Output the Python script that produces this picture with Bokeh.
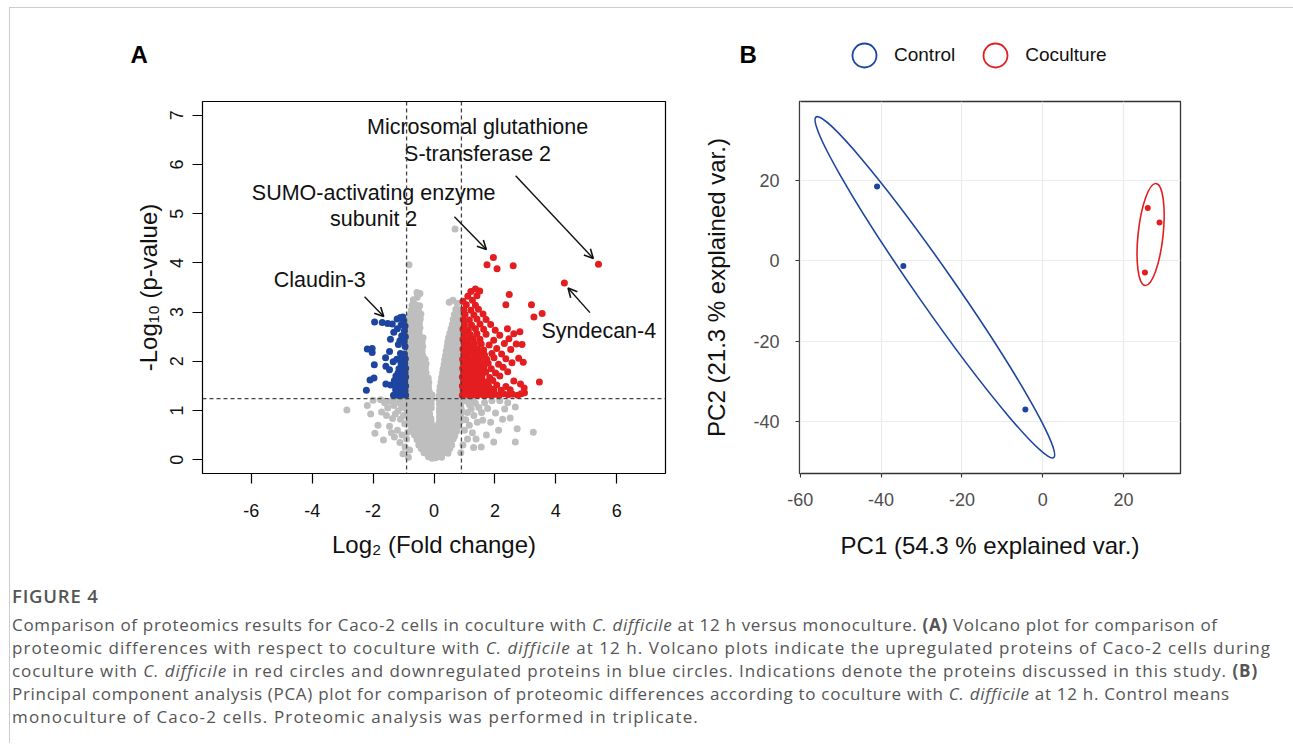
from bokeh.plotting import figure
from bokeh.models import (Span, Arrow, OpenHead, Label, Legend, LegendItem,
                          ColumnDataSource, FixedTicker, Div, Range1d, PrintfTickFormatter)
from bokeh.layouts import row, column
from bokeh.core.properties import value
from bokeh.embed import file_html
from bokeh.resources import INLINE
import math

FONT = "Liberation Sans"

# ---------------- Panel A: volcano plot data ----------------
gray_pts = [
    (-0.18,0.06),(-0.06,0.03),(0.05,0.04),(0.16,0.07),(0.25,0.05),
    (-0.33,0.14),(-0.22,0.12),(-0.1,0.13),(0.02,0.11),(0.13,0.14),(0.25,0.12),(0.36,0.15),(0.46,0.13),
    (-0.42,0.23),(-0.3,0.21),(-0.18,0.22),(-0.06,0.2),(0.06,0.23),(0.18,0.21),(0.3,0.22),(0.42,0.2),(0.52,0.23),
    (-0.5,0.3),(-0.38,0.32),(-0.26,0.31),(-0.14,0.29),(-0.02,0.32),(0.1,0.3),(0.22,0.31),(0.34,0.29),(0.46,0.32),(0.58,0.3),
    (-0.56,0.41),(-0.44,0.39),(-0.32,0.4),(-0.2,0.42),(-0.08,0.39),(0.04,0.41),(0.16,0.4),(0.28,0.38),(0.4,0.41),(0.52,0.4),(0.63,0.42),
    (-0.64,0.5),(-0.52,0.48),(-0.4,0.49),(-0.28,0.51),(-0.16,0.48),(-0.04,0.5),(0.08,0.49),(0.2,0.47),(0.32,0.5),(0.44,0.49),(0.56,0.51),(0.68,0.48),
    (-0.7,0.58),(-0.58,0.59),(-0.46,0.57),(-0.34,0.6),(-0.22,0.58),(-0.1,0.59),(0.02,0.57),(0.14,0.6),(0.26,0.58),(0.38,0.59),(0.5,0.57),(0.62,0.6),(0.74,0.58),
    (-0.74,0.67),(-0.62,0.68),(-0.5,0.66),(-0.38,0.69),(-0.26,0.67),(-0.14,0.68),(-0.02,0.66),(0.1,0.69),(0.22,0.67),(0.34,0.68),(0.46,0.66),(0.58,0.69),(0.7,0.67),(0.81,0.68),
    (-0.78,0.76),(-0.66,0.77),(-0.54,0.75),(-0.42,0.78),(-0.3,0.76),(-0.18,0.77),(-0.09,0.75),(0.18,0.78),(0.28,0.76),(0.39,0.77),(0.51,0.75),(0.63,0.78),(0.75,0.76),(0.86,0.77),
    (-0.82,0.85),(-0.7,0.86),(-0.58,0.84),(-0.46,0.87),(-0.34,0.85),(-0.22,0.86),(-0.1,0.84),(0.18,0.87),(0.29,0.85),(0.41,0.86),(0.53,0.84),(0.65,0.87),(0.77,0.85),(0.89,0.86),
    (-0.86,0.94),(-0.74,0.95),(-0.62,0.93),(-0.5,0.96),(-0.38,0.94),(-0.26,0.95),(-0.14,0.93),(0.18,0.96),(0.29,0.94),(0.41,0.95),(0.53,0.93),(0.65,0.96),(0.77,0.94),(0.9,0.95),
    (-0.9,1.03),(-0.78,1.04),(-0.66,1.02),(-0.54,1.05),(-0.42,1.03),(-0.3,1.04),(-0.18,1.02),(-0.09,1.05),(0.18,1.03),(0.29,1.04),(0.41,1.02),(0.53,1.05),(0.65,1.03),(0.77,1.04),(0.9,1.02),
    (-0.92,1.12),(-0.8,1.13),(-0.68,1.11),(-0.56,1.14),(-0.44,1.12),(-0.32,1.13),(-0.2,1.11),(-0.09,1.14),(0.18,1.12),(0.28,1.13),(0.4,1.11),(0.52,1.14),(0.64,1.12),(0.76,1.13),(0.88,1.11),
    (-0.9,1.21),(-0.78,1.22),(-0.66,1.2),(-0.54,1.23),(-0.42,1.21),(-0.3,1.22),(-0.18,1.2),(-0.08,1.23),(0.17,1.21),(0.27,1.22),(0.39,1.2),(0.51,1.23),(0.63,1.21),(0.75,1.22),(0.87,1.2),
    (-0.9,1.3),(-0.78,1.31),(-0.66,1.29),(-0.54,1.32),(-0.42,1.3),(-0.3,1.31),(-0.18,1.29),(-0.07,1.32),
    (-0.88,1.4),(-0.76,1.39),(-0.64,1.41),(-0.52,1.38),(-0.4,1.4),(-0.28,1.41),(-0.16,1.39),
    (-0.9,1.49),(-0.78,1.5),(-0.66,1.48),(-0.54,1.51),(-0.42,1.49),(-0.3,1.5),(-0.18,1.48),
    (-0.87,1.58),(-0.75,1.59),(-0.63,1.57),(-0.51,1.6),(-0.39,1.58),(-0.27,1.59),(-0.17,1.57),
    (-0.89,1.67),(-0.77,1.68),(-0.65,1.66),(-0.53,1.69),(-0.41,1.67),(-0.29,1.68),(-0.19,1.66),
    (-0.86,1.76),(-0.74,1.77),(-0.62,1.75),(-0.5,1.78),(-0.38,1.76),(-0.26,1.77),
    (-0.88,1.85),(-0.76,1.86),(-0.64,1.84),(-0.52,1.87),(-0.4,1.85),(-0.28,1.86),
    (-0.86,1.94),(-0.74,1.95),(-0.62,1.93),(-0.5,1.96),(-0.38,1.94),(-0.26,1.95),
    (-0.88,2.03),(-0.76,2.04),(-0.64,2.02),(-0.52,2.05),(-0.4,2.03),(-0.29,2.04),
    (-0.85,2.12),(-0.73,2.13),(-0.61,2.11),(-0.49,2.14),(-0.37,2.12),
    (-0.87,2.21),(-0.75,2.22),(-0.63,2.2),(-0.51,2.23),(-0.39,2.21),
    (-0.84,2.3),(-0.72,2.31),(-0.6,2.29),(-0.48,2.32),(-0.37,2.3),
    (-0.86,2.39),(-0.74,2.4),(-0.62,2.38),(-0.5,2.41),(-0.39,2.39),
    (-0.83,2.48),(-0.71,2.49),(-0.59,2.47),(-0.47,2.5),(-0.36,2.48),
    (-0.85,2.57),(-0.73,2.58),(-0.61,2.56),(-0.49,2.59),
    (-0.82,2.66),(-0.7,2.67),(-0.58,2.65),(-0.46,2.68),
    (-0.84,2.75),(-0.72,2.76),(-0.6,2.74),(-0.48,2.77),
    (-0.81,2.84),(-0.69,2.85),(-0.57,2.83),(-0.45,2.86),
    (-0.78,2.94),(-0.66,2.95),(-0.54,2.93),(-0.43,2.96),
    (-0.75,3.04),(-0.63,3.05),(-0.51,3.03),
    (-0.72,3.14),(-0.6,3.15),(-0.47,3.13),
    (-0.68,3.25),(-0.55,3.3),(-0.46,3.38),(-0.56,3.4),
    (-0.82,3.96),
    (0.16,1.3),(0.28,1.31),(0.4,1.29),(0.52,1.32),(0.64,1.3),(0.76,1.31),(0.88,1.29),
    (0.19,1.4),(0.31,1.39),(0.43,1.41),(0.55,1.38),(0.67,1.4),(0.79,1.41),(0.89,1.39),
    (0.2,1.49),(0.32,1.5),(0.44,1.48),(0.56,1.51),(0.68,1.49),(0.8,1.5),(0.89,1.48),
    (0.23,1.58),(0.35,1.59),(0.47,1.57),(0.59,1.6),(0.71,1.58),(0.83,1.59),
    (0.25,1.67),(0.37,1.68),(0.49,1.66),(0.61,1.69),(0.73,1.67),(0.85,1.68),
    (0.28,1.76),(0.4,1.77),(0.52,1.75),(0.64,1.78),(0.76,1.76),(0.88,1.77),
    (0.3,1.85),(0.42,1.86),(0.54,1.84),(0.66,1.87),(0.78,1.85),(0.89,1.86),
    (0.33,1.94),(0.45,1.95),(0.57,1.93),(0.69,1.96),(0.81,1.94),
    (0.35,2.03),(0.47,2.04),(0.59,2.02),(0.71,2.05),(0.83,2.03),
    (0.38,2.12),(0.5,2.13),(0.62,2.11),(0.74,2.14),(0.86,2.12),
    (0.4,2.21),(0.52,2.22),(0.64,2.2),(0.76,2.23),(0.88,2.21),
    (0.43,2.3),(0.55,2.31),(0.67,2.29),(0.79,2.32),
    (0.45,2.39),(0.57,2.4),(0.69,2.38),(0.81,2.41),
    (0.48,2.48),(0.6,2.49),(0.72,2.47),(0.84,2.5),
    (0.52,2.57),(0.64,2.58),(0.76,2.56),(0.87,2.59),
    (0.56,2.66),(0.68,2.67),(0.8,2.65),
    (0.6,2.75),(0.72,2.76),(0.84,2.74),
    (0.63,2.85),(0.75,2.86),(0.86,2.84),
    (0.67,2.95),(0.8,2.96),
    (0.72,3.06),(0.84,3.05),
    (0.5,3.2),(0.62,3.24),(0.76,3.18),
    (0.69,4.69),
    (-1.02,1.2),(-1.14,1.16),(-1.26,1.21),(-1.06,1.06),(-1.18,0.99),(-1.32,1.1),(-1.44,1.19),(-1.27,0.93),
    (-1.0,0.9),(-1.1,0.82),(-0.96,0.73),(-1.36,0.84),(-1.52,1.05),(-1.62,1.16),(-1.56,0.9),(-1.72,0.97),
    (-1.84,0.7),(-1.94,0.54),(-2.08,0.93),(-2.19,1.1),(-2.86,1.01),(-1.46,0.68),(-1.2,0.6),(-1.05,0.5),
    (-0.9,0.42),(-1.3,0.46),(-0.95,0.26),(-1.02,0.12),(-0.86,0.56),(-1.66,0.4),(-1.4,0.55),(-2.0,1.21),
    (-1.75,1.22),(-0.8,0.2),(-1.12,0.35),(-0.84,0.05),
    (1.04,1.2),(1.16,1.12),(1.27,1.21),(1.1,0.96),(1.22,1.03),(1.36,1.15),(1.47,1.06),(1.31,0.9),
    (1.04,0.81),(1.16,0.7),(1.0,0.6),(1.42,0.76),(1.56,0.96),(1.66,1.16),(1.6,0.8),(1.76,1.04),
    (1.9,1.2),(2.02,0.95),(2.32,1.03),(2.67,1.07),(2.73,0.63),(2.67,0.36),(3.26,0.56),(1.55,0.26),
    (1.26,0.55),(1.86,0.76),(2.12,0.6),(0.95,0.3),(1.1,0.42),(1.3,0.25),(0.88,0.14),(2.16,1.2),
    (2.42,1.16),(1.72,0.5),(2.5,0.85),(1.96,0.36),(1.38,0.42),(2.25,0.82),
]

red_pts = [
    (0.93,1.31),(1.05,1.33),(1.17,1.3),(1.29,1.32),(1.41,1.31),(1.53,1.33),(1.65,1.3),(1.77,1.32),(1.89,1.31),
    (2.01,1.33),(2.14,1.31),(2.28,1.34),(2.43,1.32),(2.58,1.33),(2.75,1.31),(2.86,1.34),(2.97,1.36),
    (0.96,1.41),(1.08,1.4),(1.2,1.42),(1.32,1.39),(1.44,1.41),(1.56,1.4),(1.68,1.42),(1.82,1.4),(1.96,1.43),(2.2,1.41),(2.5,1.42),(2.96,1.46),
    (0.93,1.5),(1.05,1.49),(1.17,1.51),(1.29,1.48),(1.41,1.5),(1.53,1.49),(1.66,1.51),(1.79,1.5),(2.06,1.52),(2.36,1.49),(2.84,1.54),
    (0.97,1.59),(1.09,1.6),(1.21,1.58),(1.33,1.61),(1.46,1.59),(1.6,1.6),(1.74,1.58),(1.93,1.61),(2.62,1.6),(3.46,1.58),
    (0.93,1.68),(1.05,1.67),(1.17,1.69),(1.3,1.66),(1.43,1.68),(1.57,1.69),(1.83,1.67),(2.16,1.7),
    (0.97,1.77),(1.1,1.78),(1.23,1.76),(1.37,1.79),(1.52,1.77),(1.7,1.78),(2.02,1.76),(2.42,1.79),
    (0.94,1.86),(1.06,1.85),(1.19,1.87),(1.33,1.84),(1.48,1.86),(1.64,1.87),(1.88,1.85),(2.27,1.88),(2.93,1.98),
    (0.97,1.95),(1.11,1.96),(1.25,1.94),(1.41,1.97),(1.6,1.95),(1.78,1.96),(2.12,1.94),(2.56,1.97),
    (0.94,2.04),(1.07,2.06),(1.21,2.03),(1.36,2.05),(1.53,2.06),(1.73,2.04),(1.97,2.07),(2.36,2.05),(2.78,2.06),
    (0.98,2.15),(1.13,2.14),(1.29,2.16),(1.47,2.15),(1.66,2.13),(1.9,2.16),(2.22,2.15),
    (0.95,2.25),(1.09,2.24),(1.25,2.26),(1.43,2.25),(1.63,2.23),(2.06,2.26),(2.52,2.24),(2.89,2.34),
    (0.99,2.35),(1.15,2.34),(1.33,2.36),(1.55,2.35),(1.81,2.33),(2.31,2.36),(2.7,2.35),
    (0.95,2.45),(1.11,2.44),(1.29,2.46),(1.51,2.45),(1.96,2.43),(2.46,2.46),
    (0.99,2.55),(1.19,2.54),(1.41,2.56),(1.71,2.55),(2.16,2.53),(2.62,2.56),(2.82,2.6),
    (0.95,2.65),(1.13,2.64),(1.36,2.66),(1.63,2.65),(2.01,2.63),(2.41,2.66),
    (1.0,2.75),(1.23,2.74),(1.51,2.76),(1.86,2.75),
    (0.96,2.85),(1.16,2.84),(1.41,2.86),(1.71,2.85),
    (1.02,2.95),(1.31,2.94),(1.61,2.96),
    (0.98,3.05),(1.21,3.04),(1.46,3.06),
    (1.06,3.15),(1.36,3.14),
    (0.95,3.22),(1.26,3.24),
    (1.11,3.32),(1.41,3.33),
    (1.21,3.42),(1.5,3.43),(1.36,3.47),
    (1.74,3.96),(1.95,4.11),(2.07,3.88),(2.6,3.94),(2.47,3.36),(2.36,3.15),(3.2,3.15),(3.28,2.9),(3.55,2.97),
    (5.4,3.97),(4.28,3.59),
]

blue_pts = [
    (-0.93,1.31),(-1.03,1.33),(-1.13,1.3),(-1.23,1.32),(-1.33,1.31),
    (-0.95,1.4),(-1.05,1.41),(-1.15,1.39),(-1.26,1.42),(-2.22,1.41),
    (-0.93,1.5),(-1.03,1.49),(-1.13,1.51),(-1.24,1.5),(-1.42,1.52),(-1.58,1.54),
    (-0.96,1.59),(-1.06,1.6),(-1.16,1.58),(-1.3,1.61),(-2.1,1.62),
    (-0.93,1.68),(-1.03,1.69),(-1.13,1.67),(-1.25,1.7),(-1.97,1.66),
    (-0.95,1.77),(-1.06,1.78),(-1.18,1.76),(-1.46,1.83),
    (-0.93,1.86),(-1.04,1.87),(-1.15,1.85),(-1.58,1.9),(-1.96,1.93),
    (-0.96,1.96),(-1.08,1.95),(-1.34,1.99),
    (-0.94,2.05),(-1.05,2.06),(-1.22,2.04),(-1.59,2.07),
    (-0.97,2.15),(-1.1,2.16),(-1.46,2.2),(-2.03,2.18),(-2.19,2.25),(-2.03,2.26),
    (-0.95,2.3),(-1.17,2.34),
    (-0.98,2.4),(-1.12,2.42),(-1.43,2.45),
    (-0.94,2.5),(-1.06,2.52),(-1.32,2.59),
    (-0.97,2.62),(-1.2,2.66),
    (-0.95,2.72),(-1.08,2.74),(-1.37,2.76),(-1.52,2.77),
    (-1.0,2.82),(-1.21,2.86),(-1.1,2.89),(-1.95,2.8),(-1.7,2.79),(-1.02,2.9),
]

fc_cut = [-0.9, 0.9]
p_cut = 1.24
ann_text = ["Microsomal glutathione", "S-transferase 2", "SUMO-activating enzyme",
            "subunit 2", "Claudin-3", "Syndecan-4"]
ann_x = [1.43, 1.43, -1.98, -1.98, -3.75, 5.41]
ann_y = [6.76, 6.22, 5.43, 4.89, 3.66, 2.61]
arrow_x0 = [2.68, 0.67, -2.28, 5.12]
arrow_y0 = [5.77, 4.94, 3.31, 2.99]
arrow_x1 = [5.23, 1.72, -1.65, 4.40]
arrow_y1 = [4.09, 4.27, 2.91, 3.49]
xticks_a = [-6, -4, -2, 0, 2, 4, 6]
yticks_a = [0, 1, 2, 3, 4, 5, 6, 7]

# ---------------- Panel B: PCA data ----------------
group_names = ["Control", "Coculture"]
ctrl_pc1 = [-41.0, -34.5, -4.3]
ctrl_pc2 = [18.4, -1.3, -36.9]
cocu_pc1 = [26.0, 28.9, 25.3]
cocu_pc2 = [13.1, 9.5, -2.9]
ell_cx = [-26.7, 26.7]
ell_cy = [-6.6, 6.5]
ell_major = [102.8, 25.4]
ell_minor = [9.4, 6.2]
ell_angle_deg = [-55.1, 83.9]
xticks_b = [-60, -40, -20, 0, 20]
yticks_b = [-40, -20, 0, 20]

RED = "#E41E20"
BLUE = "#1D45A0"
GRAY = "#BEBEBE"
INK = "#111111"

# ---------------- Header (panel letters + PCA legend) ----------------
hdr = figure(width=1283, height=85, output_backend="svg", toolbar_location=None,
             x_range=Range1d(0, 1), y_range=Range1d(0, 1),
             x_axis_location=None, y_axis_location=None,
             min_border_left=0, min_border_right=0, min_border_top=0, min_border_bottom=0)
hdr.grid.visible = False
hdr.outline_line_color = None
hdr.background_fill_color = "white"
hdr.border_fill_color = "white"
hdr.add_layout(Label(x=120, y=39, x_units="screen", y_units="screen", text="A",
                     text_font=FONT, text_font_size="24px", text_font_style="bold",
                     text_baseline="alphabetic", text_color="black"))
hdr.add_layout(Label(x=729, y=39, x_units="screen", y_units="screen", text="B",
                     text_font=FONT, text_font_size="24px", text_font_style="bold",
                     text_baseline="alphabetic", text_color="black"))
# legend key renderers: their single point lies outside the header's visible range
leg_ctrl = hdr.scatter([-5], [-5], marker="circle", size=24, fill_color=None, line_color=BLUE, line_width=1.8)
leg_cocu = hdr.scatter([-5], [-5], marker="circle", size=24, fill_color=None, line_color=RED, line_width=1.8)
legend = Legend(items=[LegendItem(label=group_names[0], renderers=[leg_ctrl]),
                       LegendItem(label=group_names[1], renderers=[leg_cocu])],
                orientation="horizontal", location=(824, 6), glyph_width=60, glyph_height=64,
                label_standoff=0, spacing=10, padding=0, margin=0, border_line_color=None,
                background_fill_alpha=0, label_text_font=FONT, label_text_font_size="19px",
                label_text_color=INK)
hdr.add_layout(legend, "center")

# ---------------- Figure A ----------------
pa = figure(width=690, height=475, output_backend="svg", toolbar_location=None,
            x_range=Range1d(-7.6, 7.6), y_range=Range1d(-0.28, 7.28),
            min_border_left=192, min_border_right=35, min_border_top=8, min_border_bottom=94)
pa.grid.visible = False
pa.outline_line_color = "black"
pa.outline_line_width = 1.2
pa.background_fill_color = "white"
pa.border_fill_color = "white"

pa.scatter([p[0] for p in gray_pts], [p[1] for p in gray_pts], size=7, color=GRAY, line_color=None)
pa.scatter([p[0] for p in blue_pts], [p[1] for p in blue_pts], size=7, color=BLUE, line_color=None)
pa.scatter([p[0] for p in red_pts], [p[1] for p in red_pts], size=7, color=RED, line_color=None)

for loc in fc_cut:
    pa.add_layout(Span(location=loc, dimension="height", line_dash="4 3", line_color="#444444", line_width=1.3))
pa.add_layout(Span(location=p_cut, dimension="width", line_dash="4 3", line_color="#444444", line_width=1.3))

ann_src = ColumnDataSource(dict(x=ann_x, y=ann_y, t=ann_text))
pa.text(x="x", y="y", text="t", source=ann_src, text_font=value(FONT), text_font_size="21.5px",
        text_align="center", text_baseline="middle", text_color=INK)
arr_src = ColumnDataSource(dict(x0=arrow_x0, y0=arrow_y0, x1=arrow_x1, y1=arrow_y1))
pa.add_layout(Arrow(end=OpenHead(size=9, line_width=1.6, line_color=INK),
                    x_start="x0", y_start="y0", x_end="x1", y_end="y1", source=arr_src,
                    line_width=1.4, line_color=INK))

pa.xaxis.ticker = FixedTicker(ticks=xticks_a)
pa.yaxis.ticker = FixedTicker(ticks=yticks_a)
pa.yaxis.major_label_orientation = "vertical"
for ax in (pa.xaxis[0], pa.yaxis[0]):
    ax.formatter = PrintfTickFormatter(format="%d")
    ax.axis_line_color = None
    ax.major_tick_in = 0
    ax.major_tick_out = 10
    ax.major_tick_line_color = "black"
    ax.major_tick_line_width = 1.2
    ax.minor_tick_line_color = None
    ax.major_label_text_font = FONT
    ax.major_label_text_font_size = "18px"
    ax.major_label_text_color = INK
    ax.axis_label_text_font = FONT
    ax.axis_label_text_font_size = "24px"
    ax.axis_label_text_font_style = "normal"
    ax.axis_label_text_color = INK
pa.xaxis.axis_label = "Log\u2082 (Fold change)"
pa.yaxis.axis_label = "-Log\u2081\u2080 (p-value)"
pa.xaxis.major_label_standoff = 20
pa.xaxis.axis_label_standoff = 11
pa.yaxis.major_label_standoff = 9
pa.yaxis.axis_label_standoff = 6

# ---------------- Figure B ----------------
pb = figure(width=540, height=475, output_backend="svg", toolbar_location=None,
            x_range=Range1d(-60.2, 34.1), y_range=Range1d(-52.8, 39.5),
            min_border_left=98, min_border_right=60, min_border_top=6, min_border_bottom=95)
pb.background_fill_color = "white"
pb.border_fill_color = "white"
pb.outline_line_color = "#333333"
pb.outline_line_width = 1.3
pb.grid.grid_line_color = "#EBEBEB"
pb.grid.grid_line_width = 1.2
pb.xgrid.ticker = FixedTicker(ticks=xticks_b)
pb.ygrid.ticker = FixedTicker(ticks=yticks_b)
pb.xaxis.ticker = FixedTicker(ticks=xticks_b)
pb.yaxis.ticker = FixedTicker(ticks=yticks_b)

ell_src = ColumnDataSource(dict(x=ell_cx, y=ell_cy, w=ell_major, h=ell_minor,
                                a=[math.radians(d) for d in ell_angle_deg], c=[BLUE, RED]))
pb.ellipse(x="x", y="y", width="w", height="h", angle="a", source=ell_src,
           fill_color=None, line_color="c", line_width=1.6)
pb.scatter(ctrl_pc1, ctrl_pc2, size=6, color=BLUE, line_color=None)
pb.scatter(cocu_pc1, cocu_pc2, size=6, color=RED, line_color=None)

for ax in (pb.xaxis[0], pb.yaxis[0]):
    ax.formatter = PrintfTickFormatter(format="%d")
    ax.axis_line_color = None
    ax.major_tick_in = 0
    ax.major_tick_out = 4
    ax.major_tick_line_color = "#333333"
    ax.major_tick_line_width = 1.1
    ax.minor_tick_line_color = None
    ax.major_label_text_font = FONT
    ax.major_label_text_font_size = "18px"
    ax.major_label_text_color = "#4D4D4D"
    ax.axis_label_text_font = FONT
    ax.axis_label_text_font_size = "24px"
    ax.axis_label_text_font_style = "normal"
    ax.axis_label_text_color = INK
pb.xaxis.axis_label = "PC1 (54.3 % explained var.)"
pb.yaxis.axis_label = "PC2 (21.3 % explained var.)"
pb.xaxis.major_label_standoff = 15
pb.xaxis.axis_label_standoff = 23
pb.yaxis.major_label_standoff = 16
pb.yaxis.axis_label_standoff = 20

# ---------------- Caption ----------------
caption_lines = [
    ('Comparison of proteomics results for Caco-2 cells in coculture with <i>C. difficile</i> at 12 h '
     'versus monoculture. <b>(A)</b> Volcano plot for comparison of', 0.68),
    ('proteomic differences with respect to coculture with <i>C. difficile</i> at 12 h. Volcano plots '
     'indicate the upregulated proteins of Caco-2 cells during', 1.05),
    ('coculture with <i>C. difficile</i> in red circles and downregulated proteins in blue circles. '
     'Indications denote the proteins discussed in this study. <b>(B)</b>', 0.95),
    ('Principal component analysis (PCA) plot for comparison of proteomic differences according to '
     'coculture with <i>C. difficile</i> at 12 h. Control means', 0.70),
    ('monoculture of Caco-2 cells. Proteomic analysis was performed in triplicate.', 1.15),
]
caption_html = (
    '<div style="font-family:\'Open Sans\',sans-serif;color:#555555;font-size:17px;'
    'line-height:23px;white-space:nowrap;padding-left:2px;padding-top:16px;">'
    '<div style="font-weight:600;margin-bottom:6px;font-size:18.5px;letter-spacing:0.8px;">FIGURE 4</div>'
    + "".join('<div style="letter-spacing:%.2fpx;">%s</div>' % (ls, txt) for txt, ls in caption_lines)
    + '</div>'
)
caption = Div(text=caption_html, width=1283, height=175, margin=0)

layout = column(hdr, row(pa, pb), caption, margin=(7, 0, 0, 9),
                styles={"border-top": "1px solid #cccccc", "border-left": "1px solid #cccccc"})

with open("out.html", "w") as f:
    f.write(file_html(layout, INLINE))
